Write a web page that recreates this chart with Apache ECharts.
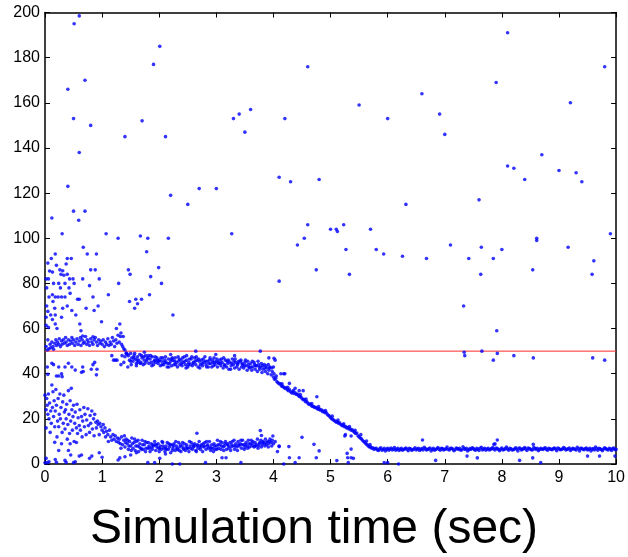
<!DOCTYPE html>
<html><head><meta charset="utf-8">
<script src="https://cdn.jsdelivr.net/npm/echarts@6/dist/echarts.min.js"></script>
<style>html,body{margin:0;padding:0;background:#fff}#c{width:628px;height:557px}</style>
</head><body><div id="c"></div>
<script>
var xTicks = [0,1,2,3,4,5,6,7,8,9,10];
var yTicks = [0,20,40,60,80,100,120,140,160,180,200];
var xTitle = 'Simulation time (sec)';
var refLine = [[0,50],[10,50]];

var bandA1 = [[0.02,52],[0.04,50.5],[0.05,55],[0.07,51],[0.09,53],[0.1,51.5],[0.12,54],[0.14,52],[0.15,50.8],[0.17,53.5],[0.19,55],[0.2,52.5],[0.22,54],[0.24,53],[0.25,55.5],[0.27,52],[0.29,54.5],[0.3,53],[0.32,55],[0.34,53.5],[0.36,56],[0.37,54],[0.39,52.5],[0.41,55],[0.43,53],[0.45,54.5],[0.47,56],[0.48,53.5],[0.5,55],[0.52,52.5],[0.54,54],[0.56,55.5],[0.58,53],[0.6,54.5],[0.62,56],[0.63,52.5],[0.65,55],[0.67,53.5],[0.69,54],[0.71,56.5],[0.73,53],[0.74,55],[0.76,54],[0.78,52.5],[0.8,55.5],[0.82,54],[0.84,53],[0.86,55],[0.88,56],[0.9,54],[0.92,52.5],[0.94,55],[0.96,53.5],[0.98,54.5],[1.0,53],[1.02,55],[1.04,52],[1.06,54],[1.08,53],[1.1,55.5],[1.12,52.5],[1.14,54],[1.16,53],[1.18,56],[1.2,54.5],[1.22,52],[1.24,55],[1.26,53.5],[1.28,57],[1.3,54],[1.32,56.5],[1.34,53],[1.36,52],[1.38,51],[1.4,50.5],[1.42,49],[1.44,48.5],[1.37,56.5],[1.33,58]];

var bandA2 = [[1.46,48],[1.48,46],[1.5,49],[1.52,47],[1.54,45.5],[1.56,48],[1.58,46.5],[1.6,44.5],[1.62,47.5],[1.64,46],[1.66,48.5],[1.68,45],[1.7,47],[1.72,44],[1.74,46],[1.76,48],[1.78,45.5],[1.8,47],[1.82,44.5],[1.84,46.5],[1.86,45],[1.88,47.5],[1.9,44],[1.92,46],[1.94,45],[1.96,47],[1.98,44.5],[2.0,46],[2.02,43.5],[2.04,45.5],[2.06,47],[2.08,44],[2.1,46],[2.12,45],[2.14,43],[2.16,46.5],[2.18,44.5],[2.2,45.5],[2.22,43.5],[2.24,46],[2.26,44],[2.28,47],[2.3,45],[2.32,43],[2.34,45.5],[2.36,44],[2.38,46],[2.4,43.5],[2.42,45],[2.44,47.5],[2.46,44],[2.48,46],[2.5,43],[2.52,45],[2.54,44],[2.56,46.5],[2.58,43.5],[2.6,45],[2.62,47],[2.64,44],[2.66,46],[2.68,43],[2.7,45.5],[2.72,44],[2.74,46],[2.76,43.5],[2.78,45],[2.8,47.5],[2.82,44],[2.84,45.5],[2.86,43],[2.88,46],[2.9,44.5],[2.92,43],[2.94,45],[2.96,47],[2.98,44],[3.0,45.5],[3.02,43],[3.04,44.5],[3.06,46],[3.08,43.5],[3.1,45],[3.12,42.5],[3.14,44],[3.16,46],[3.18,43],[3.2,44.5],[3.22,42],[3.24,45],[3.26,43.5],[3.28,46.5],[3.3,44],[3.32,42.5],[3.34,45],[3.36,43],[3.38,44.5],[3.4,42],[3.42,45.5],[3.44,43],[3.46,44],[3.48,42.5],[3.5,45],[3.52,43.5],[3.54,41.5],[3.56,44],[3.58,42.5],[3.6,44.5],[3.62,41.5],[3.64,43],[3.66,45],[3.68,42],[3.7,43.5],[3.72,41],[3.74,44],[3.76,42],[3.78,43],[3.8,40.5],[3.82,42],[3.84,44],[3.86,41],[3.88,42.5],[3.9,40],[3.92,41.5],[3.94,43],[3.96,39.5],[3.98,41],
[1.51,44],[1.57,49],[1.63,45],[1.69,48],[1.75,44.5],[1.81,48],[1.87,43.5],[1.93,47.5],[1.99,45.5],[2.05,44],[2.11,47.5],[2.17,43],[2.23,47],[2.29,44],[2.35,46.5],[2.41,47],[2.47,42.5],[2.53,46.5],[2.59,44.5],[2.65,47.5],[2.71,42.5],[2.77,46.5],[2.83,43],[2.89,47],[2.95,43.5],[3.01,46.5],[3.07,44.5],[3.13,47],[3.19,45.5],[3.25,42],[3.31,45.5],[3.37,44],[3.43,46],[3.49,43.5],[3.55,45.5],[3.61,43],[3.67,44],[3.73,45.5],[3.79,44.5],[3.85,42.5],[3.91,44],[3.97,42.5],
[1.55,47],[1.61,46],[1.67,44.5],[1.73,47.5],[1.79,46.5],[1.85,48],[1.91,45.5],[1.97,46],[2.03,47],[2.09,45],[2.15,44.5],[2.21,46.5],[2.27,45.5],[2.33,47.5],[2.39,44.5],[2.45,45.5],[2.51,44],[2.57,47.5],[2.63,45.5],[2.69,46.5],[2.75,44.5],[2.81,45.5],[2.87,44.5],[2.93,46],[2.97,45],[3.03,45],[3.09,46.5],[3.15,43.5],[3.21,46],[3.27,44.5],[3.33,46.5],[3.39,45.5],[3.45,44.5],[3.51,46],[3.57,43],[3.63,45.5],[3.69,43.5],[3.75,43],[3.81,43.5],[3.87,43.5],[3.93,42.5],
[2.64,50],[2.99,48.5],[3.77,50],[2.2,48.5],[2.48,48],[3.32,48],[1.74,49.5]];

var bandA3 = [[4.0,38.5],[4.02,37.5],[4.04,38],[4.06,36.5],[4.08,36],[4.1,35.5],[4.12,35.5],[4.14,34.5],[4.16,34.5],[4.18,34],[4.2,33.5],[4.22,33.8],[4.24,33],[4.26,32.5],[4.28,33],[4.3,32],[4.32,31.5],[4.34,32],[4.36,31.2],[4.38,31.5],[4.4,30.8],[4.42,31],[4.44,30.2],[4.46,29.8],[4.48,29.8],[4.5,29],[4.52,28.5],[4.54,28.6],[4.56,27.6],[4.58,27.8],[4.6,27],[4.62,26.5],[4.64,26.6],[4.66,26],[4.68,25.5],[4.7,25.6],[4.72,25],[4.74,25.1],[4.76,24.7],[4.78,24.3],[4.8,24.4],[4.82,23.8],[4.84,24],[4.86,23.2],[4.88,23.4],[4.9,22.7],[4.92,22.9],[4.94,22.1],[4.96,21.6],[4.98,21.2],[5.0,20.5],[5.02,20],[5.04,19.8],[5.06,19.3],[5.08,19],[5.1,18.5],[5.12,18.7],[5.14,18],[5.16,18.2],[5.18,17.5],[5.2,17],[5.22,17.2],[5.24,16.5],[5.26,16.7],[5.28,16],[5.3,16.2],[5.32,15.5],[5.34,15.7],[5.36,15],[5.38,15.2],[5.4,14.5],[5.42,14],[5.44,13.5],[5.46,13.7],[5.48,12.5],[5.5,12],[5.52,11.5],[5.54,11.2],[5.56,10.5],[5.58,10],[5.6,9.5],[5.62,9],[5.64,8.5],[5.66,8],[5.68,7.5],[5.7,7.6],[5.72,7],[5.74,7.2],
[4.05,39],[4.15,35.5],[4.25,34],[4.35,32.5],[4.47,30.8],[4.57,28.8],[4.67,26.8],[4.79,25.4],[4.91,23.7],[5.03,21.2],[5.13,19.5],[5.23,17.8],[5.33,16.6],[5.43,14.9],[5.53,13],[5.63,10.2],[5.69,8.6]];

var tail = [[5.76,6.5],[5.8,7],[5.84,6],[5.88,7.2],[5.92,6.4],[5.96,5.8],[6.0,7],[6.04,6.6],[6.08,6.2],[6.12,7.3],[6.16,6.5],[6.2,6],[6.24,6.9],[6.28,6.4],[6.32,7.1],[6.36,5.9],[6.4,6.7],[6.44,6.3],[6.48,7.2],[6.52,6.6],[6.56,6],[6.6,6.8],[6.64,7.4],[6.68,6.2],[6.72,6.7],[6.76,5.8],[6.8,6.9],[6.84,6.4],[6.88,7.3],[6.92,6.1],[6.96,6.8],[7.0,6.5],[7.04,7.5],[7.08,6.2],[7.12,6.9],[7.16,5.9],[7.2,7.1],[7.24,6.5],[7.28,6.1],[7.32,7.6],[7.36,6.4],[7.4,5.8],[7.44,6.8],[7.48,7.2],[7.52,6.3],[7.56,6.9],[7.6,6],[7.64,7.4],[7.68,6.6],[7.72,6.1],[7.76,7],[7.8,6.5],[7.84,7.3],[7.88,6.2],[7.92,6.8],[7.96,5.9],[8.0,7.1],[8.04,6.4],[8.08,7.5],[8.12,6.1],[8.16,6.7],[8.2,6.3],[8.24,7.2],[8.28,5.8],[8.32,6.9],[8.36,6.5],[8.4,7.3],[8.44,6],[8.48,6.8],[8.52,6.2],[8.56,7.4],[8.6,6.5],[8.64,5.9],[8.68,7],[8.72,6.4],[8.76,7.2],[8.8,6.1],[8.84,6.7],[8.88,6.3],[8.92,7.1],[8.96,5.9],[9.0,6.8],[9.04,6.4],[9.08,7.3],[9.12,6.2],[9.16,6.7],[9.2,6],[9.24,7],[9.28,6.5],[9.32,7.4],[9.36,5.8],[9.4,6.9],[9.44,6.3],[9.48,7.1],[9.52,6.5],[9.56,5.8],[9.6,6.8],[9.64,7.5],[9.68,6.1],[9.72,6.7],[9.76,5.9],[9.8,7.2],[9.84,6.4],[9.88,6.9],[9.92,6],[9.96,7.1],[10.0,6.5]];

var tail2 = [[5.78,6.8],[5.82,6.2],[5.86,6.7],[5.9,6.1],[5.94,7],[5.98,6.5],[6.02,6.1],[6.06,7.1],[6.1,6.6],[6.14,6.1],[6.18,6.9],[6.22,6.5],[6.26,6.1],[6.3,6.7],[6.34,6.5],[6.38,7],[6.42,6.1],[6.46,6.6],[6.5,6.2],[6.54,7],[6.58,6.5],[6.62,6.2],[6.66,6.8],[6.7,6.4],[6.74,7.1],[6.78,6.5],[6.82,6.1],[6.86,6.7],[6.9,6.6],[6.94,7],[6.98,6.2],[7.02,6.7],[7.06,6.4],[7.1,7],[7.14,6.6],[7.18,6.3],[7.22,6.8],[7.26,6.9],[7.3,6.3],[7.34,6.8],[7.38,7],[7.42,6.3],[7.46,6.5],[7.5,6.9],[7.54,6.1],[7.58,6.6],[7.62,6.9],[7.66,6.2],[7.7,7],[7.74,6.6],[7.78,6.2],[7.82,6.8],[7.86,6.6],[7.9,7.1],[7.94,6.4],[7.98,6.6],[8.02,6.2],[8.06,6.8],[8.1,6.6],[8.14,7],[8.18,6.2],[8.22,6.6],[8.26,6.6],[8.3,7.1],[8.34,6.2],[8.38,6.8],[8.42,6.6],[8.46,7.1],[8.5,6.6],[8.54,6.3],[8.58,6.8],[8.62,7],[8.66,6.4],[8.7,6.6],[8.74,6.9],[8.78,6.5],[8.82,7],[8.86,6.5],[8.9,6.8],[8.94,6.6],[8.98,7.1],[9.02,6.3],[9.06,6.6],[9.1,6.9],[9.14,6.5],[9.18,7.1],[9.22,6.4],[9.26,6.7],[9.3,6.2],[9.34,6.7],[9.38,6.9],[9.42,6.5],[9.46,6.8],[9.5,6.2],[9.54,6.9],[9.58,6.6],[9.62,6.2],[9.66,6.8],[9.7,7],[9.74,6.4],[9.78,6.6],[9.82,6.8],[9.86,6.2],[9.9,6.6],[9.94,6.8],[9.98,6.3]];

var bandB1 = [[0.0,30.5],[0.02,24],[0.02,16],[0.03,29],[0.04,26],[0.05,22],[0.06,31],[0.07,20],[0.08,27],[0.09,14],[0.1,23.5],[0.11,18],[0.12,35],[0.13,25],[0.14,32],[0.15,21],[0.16,28],[0.17,16.5],[0.18,23.5],[0.19,33],[0.2,26],[0.21,12],[0.22,19],[0.23,29],[0.24,16.5],[0.25,22],[0.26,31],[0.27,20],[0.28,25],[0.29,9],[0.3,14],[0.31,27.5],[0.32,18],[0.33,30.5],[0.34,23],[0.35,15.5],[0.36,24],[0.37,20],[0.38,26.5],[0.39,11],[0.4,17.5],[0.41,32.5],[0.42,22],[0.43,13.5],[0.44,28],[0.45,19],[0.46,33.5],[0.47,24],[0.48,15],[0.49,21],[0.5,26],[0.51,10],[0.52,18],[0.53,23],[0.55,16],[0.56,26.5],[0.57,13.5],[0.58,20.5],[0.6,17],[0.61,24],[0.62,15],[0.64,21],[0.65,12],[0.66,19],[0.68,25],[0.69,16.5],[0.7,22],[0.72,13],[0.73,19.5],[0.75,24.5],[0.76,17],[0.78,14],[0.79,21.5],[0.8,18],[0.82,23.5],[0.83,15.5],[0.85,20],[0.86,12.5],[0.87,22],[0.89,18.5],[0.9,16],[0.92,19],[0.93,17.5],[0.95,13],[0.96,18],[0.98,16.5],[1.0,15],[1.02,17.5],[1.03,14],[1.05,16],[1.06,12],[1.08,14.5],[1.1,13],[1.11,10],[1.13,15],[1.15,12],[1.17,10.5],[1.19,13],[1.21,11],[1.23,12.5],[1.25,10],[1.27,11.5],[1.29,9.5]];

var bandB2 = [[1.3,11],[1.32,9],[1.34,12],[1.36,8.5],[1.38,10.5],[1.4,7.5],[1.42,11],[1.44,9],[1.46,6.5],[1.48,10],[1.5,8],[1.52,11.5],[1.54,7],[1.56,9.5],[1.58,6],[1.6,10],[1.62,8],[1.64,5.5],[1.66,9],[1.68,7],[1.7,10.5],[1.72,6.5],[1.74,8.5],[1.76,5.5],[1.78,9.5],[1.8,7],[1.82,8],[1.84,5.5],[1.86,9],[1.88,6.5],[1.9,8],[1.92,10],[1.94,6],[1.96,7.5],[1.98,9],[2.0,5.5],[2.02,8],[2.04,6.5],[2.06,9.5],[2.08,7],[2.1,5.5],[2.12,8],[2.14,9.5],[2.16,6.5],[2.18,7.5],[2.2,5],[2.22,8.5],[2.24,7],[2.26,9],[2.28,6],[2.3,8],[2.32,6.5],[2.34,9.5],[2.36,7.5],[2.38,5.5],[2.4,8],[2.42,7],[2.44,9],[2.46,6],[2.48,8.5],[2.5,7],[2.52,5.5],[2.54,8],[2.56,9.5],[2.58,6.5],[2.6,7.5],[2.62,9],[2.64,6],[2.66,8],[2.68,7],[2.7,10],[2.72,6.5],[2.74,8.5],[2.76,5.5],[2.78,7.5],[2.8,9.5],[2.82,6.5],[2.84,8],[2.86,7],[2.88,10],[2.9,6],[2.92,8.5],[2.94,7],[2.96,9],[2.98,6.5],[3.0,8],[3.02,10.5],[3.04,7],[3.06,8.5],[3.08,6.5],[3.1,9.5],[3.12,7.5],[3.14,8],[3.16,10],[3.18,6.5],[3.2,8.5],[3.22,7],[3.24,9.5],[3.26,7.5],[3.28,10],[3.3,8],[3.32,6.5],[3.34,9],[3.36,7.5],[3.38,10],[3.4,8],[3.42,9],[3.44,7],[3.46,10.5],[3.48,8.5],[3.5,7.5],[3.52,9.5],[3.54,8],[3.56,10.5],[3.58,7.5],[3.6,9],[3.62,8],[3.64,10],[3.66,7.5],[3.68,9.5],[3.7,8.5],[3.72,11],[3.74,8],[3.76,9.5],[3.78,10.5],[3.8,8.5],[3.82,10],[3.84,9],[3.86,11],[3.88,8.5],[3.9,10],[3.92,9],[3.94,11],[3.96,9.5],[3.98,10.5],[4.0,9],
[1.33,7],[1.39,12.5],[1.45,10.5],[1.51,6],[1.57,11],[1.63,10.5],[1.69,6.5],[1.75,10],[1.81,9.5],[1.87,7.5],[1.93,8.5],[1.99,7],[2.05,10],[2.11,7],[2.17,9],[2.23,6],[2.29,10],[2.35,6],[2.41,9.5],[2.47,7.5],[2.53,10],[2.59,8.5],[2.65,5.5],[2.71,8],[2.77,9],[2.83,10],[2.89,7.5],[2.95,5.5],[3.01,6.5],[3.07,10],[3.13,6],[3.19,9],[3.25,6],[3.31,10.5],[3.37,6],[3.43,10.5],[3.49,6.5],[3.55,7],[3.61,10.5],[3.67,8],[3.73,7],[3.79,7.5],[3.85,8],[3.91,7.5],[3.97,8],
[1.41,9.5],[1.47,8],[1.53,9],[1.59,8],[1.65,7.5],[1.71,8.5],[1.77,7],[1.83,7],[1.89,8.5],[1.95,8.5],[2.01,7],[2.07,8],[2.13,6.5],[2.19,8.5],[2.25,8],[2.31,7],[2.37,8.5],[2.43,6.5],[2.49,7],[2.55,7],[2.61,8],[2.67,8.5],[2.73,7.5],[2.79,8],[2.85,8.5],[2.91,7],[2.97,8],[3.03,8.5],[3.09,8],[3.15,9],[3.21,8],[3.27,8.5],[3.33,8],[3.39,8.5],[3.45,8.5],[3.51,8.5],[3.57,9],[3.63,9],[3.69,8],[3.75,9],[3.81,9.5],[3.87,9.5],[3.93,10]];

var upperScatter = [[0.12,109],[0.30,102],[0.40,166],[0.51,195],[0.60,198.5],[0.50,153],[0.60,138],[0.40,123],[0.50,112],[0.59,108],[0.70,112],[0.70,170],[0.80,150],[1.07,102],[1.28,100],[1.40,145],[1.67,101],[1.70,152],[1.80,100],[1.90,177],[2.01,185],[2.11,145],[2.16,100],[2.20,119],[2.50,115],[2.70,122],[3.00,122],[3.27,102],[3.30,153],[3.40,155],[3.50,147],[3.60,157],[4.10,127],[4.20,153],[4.30,125],[4.54,100],[4.60,106],[4.60,176],[4.80,126],[5.50,159],[6.00,153],[6.60,164],[6.91,155],[7.00,146],[8.10,191],[7.90,169],[9.20,160],[9.80,176],[6.32,115],[7.60,117],[8.10,132],[8.21,131],[8.40,126],[8.70,137],[9.00,130],[9.30,129],[9.40,125],[5.00,104],[5.10,104],[5.12,103],[5.23,106],[5.70,104],[9.90,102],[8.61,100],
[5.27,95],[5.80,95],[5.93,93],[6.26,92],[6.68,91],[7.10,97],[7.42,91],[7.64,96],[7.85,91],[8.00,95],[7.63,84],[4.75,86],[5.33,84],[8.54,86],[8.61,99],[9.16,96],[9.61,90],[9.58,84],[7.33,70],[7.91,59],[7.35,48],[7.34,49.5],[7.65,50],[7.85,46],[7.92,49],[8.21,48],[8.55,47],[9.59,47],[9.80,46],[4.10,81],[4.42,97],
[0.67,96],[0.18,93],[0.74,93],[1.78,94],[0.11,91],[0.39,91],[0.46,91],[0.05,89],[0.20,88],[0.37,88.6],[0.80,86],[0.88,86],[1.46,86],[1.49,84],[1.99,87],[0.08,85.5],[0.13,85],[0.26,86],[0.31,85.6],[0.28,84],[0.33,83.6],[0.39,84],[0.66,82],[0.95,82],[1.85,83],[0.06,82],[0.43,82],[0.49,82],[0.15,80],[0.24,80],[0.35,80],[0.51,80],[1.29,80],[0.27,78],[0.42,78],[0.78,79],[0.13,75],[0.18,74],[0.07,74],[0.14,72],[0.23,74],[0.29,74],[0.35,74],[0.44,75.6],[1.11,75],[0.57,73],[0.60,73],[0.84,74],[1.48,72],[1.59,73],[1.62,71],[1.69,73],[1.57,69],[1.83,75],[0.03,70],[0.17,69],[0.31,69],[0.39,70],[0.93,70],[0.47,68],[0.54,66],[0.86,68],[0.05,67.6],[0.10,66],[0.18,66],[0.13,64],[0.29,65],[0.02,65],[0.99,63],[0.61,62],[1.31,62],[1.25,60],[0.02,61.4],[0.06,60.5],[0.18,62],[0.21,60],[0.63,59],[0.66,56.7],[0.84,56.4],[2.04,80],[2.24,66],[0.90,93],[0.72,69],[0.02,82],[0.03,78]];

var midScatter = [[0.12,44.6],[0.15,44],[0.04,43],[0.35,43],[0.41,44.6],[0.47,43],[0.53,41.6],[0.64,40.6],[0.81,42],[0.84,44],[0.87,45],[0.9,39.5],[0.91,42],[1.17,48],[1.2,46],[1.23,46],[1.26,46],[1.33,44],[1.38,45],[1.45,43],[1.5,45.5],[1.6,43.5],[0.24,43],[0.29,40],[0.2,39],[0.66,43],[0.67,41],[1.35,48],[1.4,47.5],[1.43,49],[0.05,39.7],[0.3,38.7],[0.24,39],
[4.13,40],[4.18,40],[4.28,35.7],[4.38,33.5],[4.45,32.5],[4.52,32.5],[4.76,29.8],[4.01,40],[4.0,43],[4.03,46],[3.92,47],[4.01,46.8],[4.2,40]];

var lowScatter = [[0.0,0.5],[0.02,2.5],[0.04,0.6],[0.07,1],[0.18,2],[0.2,0.8],[0.35,1.6],[0.37,0.7],[0.5,0.6],[0.53,1],[0.6,3.5],[0.64,4],[0.78,2.5],[0.82,3.5],[0.44,9],[0.24,6],[0.41,6],[0.45,4],[0.17,9.6],[0.55,9.5],[0.95,5],[1.0,3],[1.28,1.8],[1.4,3.2],[1.5,4],[1.6,5],[1.8,0.6],[1.31,2.7],[1.92,0.6],[2.01,2.5],[2.11,4.4],[2.23,0],[2.36,0],[2.81,0.6],[3.1,2.8],[3.17,2.8],[3.43,0.6],[2.66,13.6],[3.77,14.8],[3.79,12.6],[3.99,12.4],[4.03,9.9],[4.07,5.5],[4.1,8],[4.18,0],[4.5,11.8],[4.1,7.7],[4.27,7.7],[4.71,8.7],[4.8,5.8],[4.28,2.8],[4.45,2.8],[4.75,2.8],[4.38,0.6],[5.11,1.5],[5.25,12.4],[5.36,12.4],[5.36,6.6],[5.29,4.7],[5.3,2.8],[5.36,2.8],[5.31,0.6],[5.94,0.6],[6.0,0.6],[5.26,13],[5.4,2.5],[6.19,0],[6.61,10.6],[6.84,1.6],[7.39,3.5],[7.57,2.7],[7.86,8.7],[7.92,10.6],[8.31,1.6],[8.54,2.7],[8.55,8.7],[8.68,0.6],[9.5,3.5],[9.71,3.5],[9.98,3.5],[7.88,8.9]];

var allPoints = [].concat(bandA1, bandA2, bandA3, tail, tail2, bandB1, bandB2, upperScatter, midScatter, lowScatter);

var FONT = '"Liberation Sans", Arial, Helvetica, sans-serif';
var chart = echarts.init(document.getElementById('c'), null, {renderer: 'canvas'});
function axisBase(showLabel) {
  return {
    axisLine: {show: true, onZero: false, lineStyle: {color: '#000', width: 1.5}},
    axisTick: {show: true, inside: true, length: 5, lineStyle: {color: '#000', width: 1}},
    axisLabel: {show: showLabel, color: '#000', fontSize: 16, fontFamily: FONT},
    splitLine: {show: false}
  };
}
var xb = Object.assign({type: 'value', position: 'bottom', min: xTicks[0], max: xTicks[xTicks.length-1], interval: 1}, axisBase(true));
xb.axisLabel.margin = 6;
var xt = Object.assign({type: 'value', position: 'top', min: xTicks[0], max: xTicks[xTicks.length-1], interval: 1}, axisBase(false));
var yl = Object.assign({type: 'value', position: 'left', min: yTicks[0], max: yTicks[yTicks.length-1], interval: 20}, axisBase(true));
yl.axisLabel.margin = 5;
var yr = Object.assign({type: 'value', position: 'right', min: yTicks[0], max: yTicks[yTicks.length-1], interval: 20}, axisBase(false));

chart.setOption({
  animation: false,
  backgroundColor: '#fff',
  grid: {left: 45, right: 8, top: 12.5, bottom: 93, containLabel: false},
  xAxis: [xb, xt],
  yAxis: [yl, yr],
  graphic: [{
    type: 'text', left: 'center', top: 506,
    style: {text: xTitle, fill: '#000', font: '48px ' + FONT}
  }],
  series: [
    {type: 'line', data: refLine, xAxisIndex: 0, yAxisIndex: 0, symbol: 'none', lineStyle: {color: '#ff2a2a', width: 1}, z: 2},
    {type: 'scatter', data: allPoints, xAxisIndex: 0, yAxisIndex: 0, symbol: 'circle', symbolSize: 3.6, itemStyle: {color: '#0000ff'}, z: 3, clip: false}
  ]
});
</script></body></html>
